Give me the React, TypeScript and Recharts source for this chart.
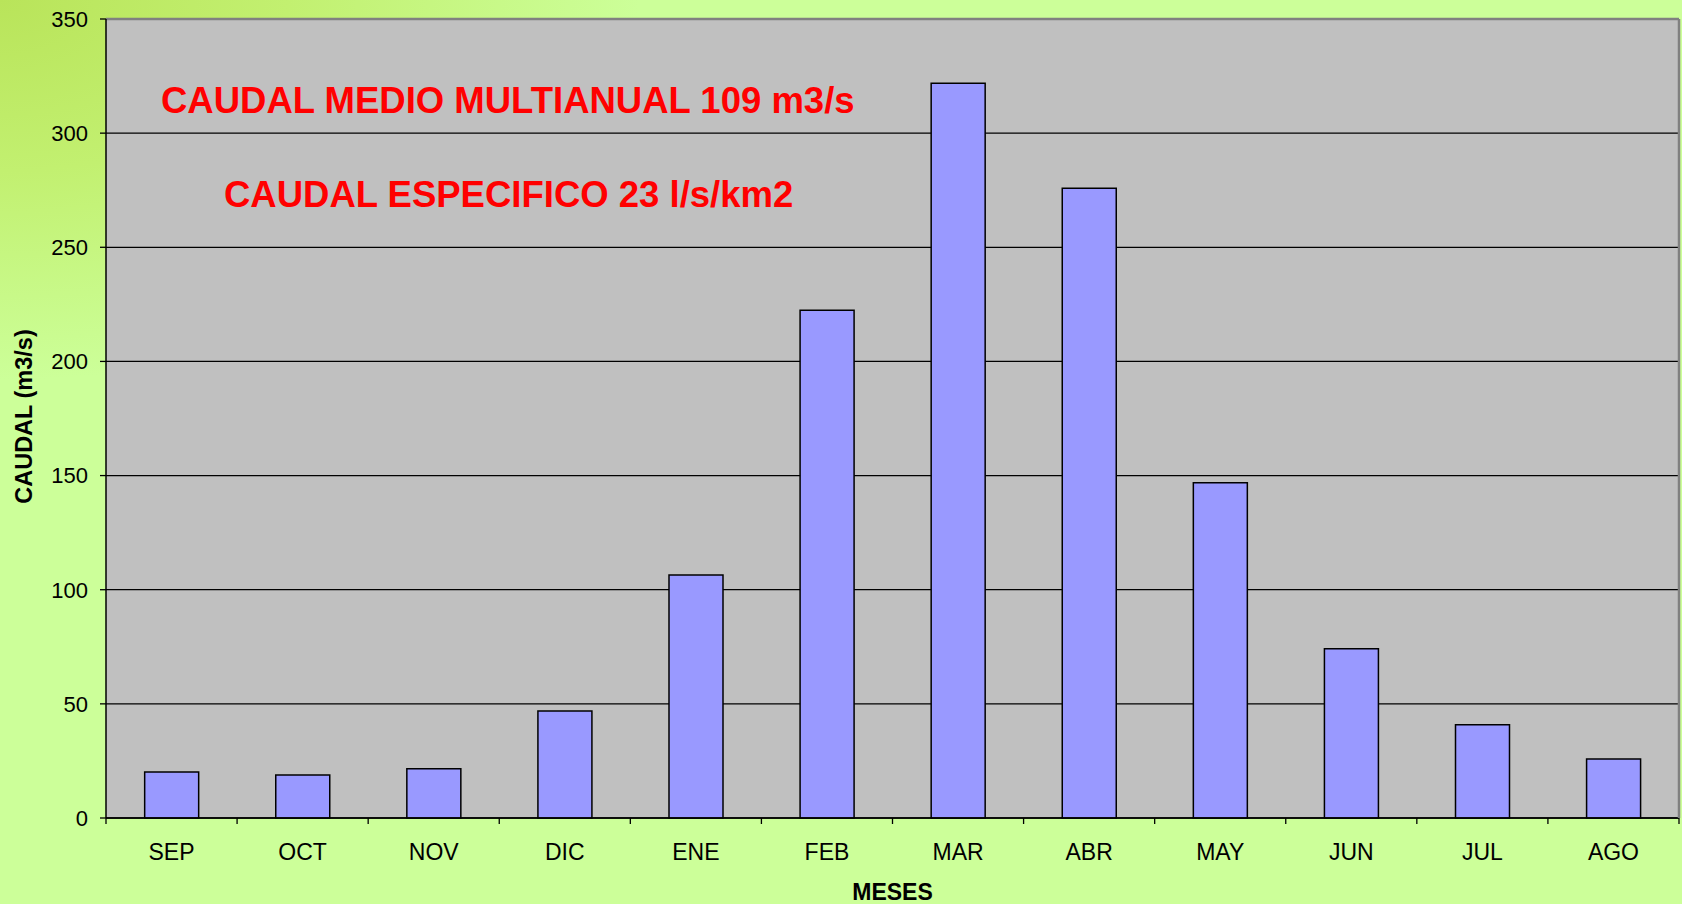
import {
  Bar,
  BarChart,
  CartesianGrid,
  ReferenceLine,
  XAxis,
  YAxis,
} from "recharts";

const MONTHS = ["SEP", "OCT", "NOV", "DIC", "ENE", "FEB", "MAR", "ABR", "MAY", "JUN", "JUL", "AGO"];
const CAUDAL = [20.2, 18.8, 21.6, 46.9, 106.5, 222.4, 321.9, 275.9, 146.9, 74.1, 40.8, 25.8];
const Y_TICKS = [0, 50, 100, 150, 200, 250, 300, 350];

const TITLE_1 = "CAUDAL MEDIO MULTIANUAL 109 m3/s";
const TITLE_2 = "CAUDAL ESPECIFICO 23 l/s/km2";

const data = MONTHS.map((month, i) => ({ month, caudal: CAUDAL[i] }));

const FONT = "'Liberation Sans', Arial, sans-serif";

// month label plus Excel-style tick marks on the category boundaries
function MonthTick(props: any) {
  const { x, y, payload, index, visibleTicksCount } = props;
  const half = payload && payload.offset ? payload.offset : 1573 / MONTHS.length / 2;
  const last = index === (visibleTicksCount ?? MONTHS.length) - 1;
  return (
    <g>
      <line x1={x - half} x2={x - half} y1={y} y2={y + 6} stroke="#000" strokeWidth={1.3} />
      {last && <line x1={x + half} x2={x + half} y1={y} y2={y + 6} stroke="#000" strokeWidth={1.3} />}
      <text x={x} y={y + 42} textAnchor="middle" fontSize={23} fontFamily={FONT} fill="#000">
        {payload.value}
      </text>
    </g>
  );
}

export default function App() {
  return (
    <div
      style={{
        position: "absolute",
        left: 0,
        top: 0,
        width: 1682,
        height: 904,
        overflow: "hidden",
        fontFamily: FONT,
        background:
          "radial-gradient(ellipse 640px 380px at 0 0, #b9e45a 0%, #c2f070 45%, #ccff99 100%)",
      }}
    >
      <BarChart
        width={1682}
        height={904}
        data={data}
        margin={{ top: 19, right: 3, bottom: 0, left: 0 }}
        barCategoryGap="29.5%"
      >
        <CartesianGrid vertical={false} fill="#C0C0C0" fillOpacity={1} stroke="#000" strokeWidth={1.3} />
        <XAxis
          dataKey="month"
          height={86}
          axisLine={{ stroke: "#000", strokeWidth: 1.5 }}
          tickLine={false}
          tickSize={0}
          tickMargin={0}
          interval={0}
          tick={<MonthTick />}
          label={{
            content: (props: any) => {
              const vb = props.viewBox;
              return (
                <text
                  x={vb.x + vb.width / 2}
                  y={vb.y + 82}
                  textAnchor="middle"
                  fontSize={23}
                  fontWeight="bold"
                  fontFamily={FONT}
                  fill="#000"
                >
                  MESES
                </text>
              );
            },
          }}
        />
        <YAxis
          width={106}
          domain={[0, 350]}
          ticks={Y_TICKS}
          interval={0}
          axisLine={{ stroke: "#000", strokeWidth: 1.5 }}
          tickLine={{ stroke: "#000", strokeWidth: 1.3 }}
          tickSize={6}
          tickMargin={12}
          tick={{ fontSize: 22, fill: "#000", fontFamily: FONT }}
          label={{
            content: (props: any) => {
              const vb = props.viewBox;
              const cy = vb.y + vb.height / 2 - 2;
              return (
                <text
                  x={32}
                  y={cy}
                  transform={`rotate(-90, 32, ${cy})`}
                  textAnchor="middle"
                  fontSize={23.5}
                  fontWeight="bold"
                  fontFamily={FONT}
                  fill="#000"
                >
                  CAUDAL (m3/s)
                </text>
              );
            },
          }}
        />
        <ReferenceLine y={350} stroke="#808080" strokeWidth={2.5} />
        <Bar
          dataKey="caudal"
          fill="#9999FF"
          stroke="#000"
          strokeWidth={1.5}
          isAnimationActive={false}
        />
      </BarChart>
      <svg
        width={1682}
        height={904}
        style={{ position: "absolute", left: 0, top: 0, pointerEvents: "none" }}
      >
        <line x1={1679} x2={1679} y1={19} y2={818} stroke="#808080" strokeWidth={2.5} />
        <text x={161} y={113} fontSize={36.5} fontWeight="bold" fontFamily={FONT} fill="#FF0000">
          {TITLE_1}
        </text>
        <text x={224} y={207} fontSize={36.5} fontWeight="bold" fontFamily={FONT} fill="#FF0000">
          {TITLE_2}
        </text>
      </svg>
    </div>
  );
}
